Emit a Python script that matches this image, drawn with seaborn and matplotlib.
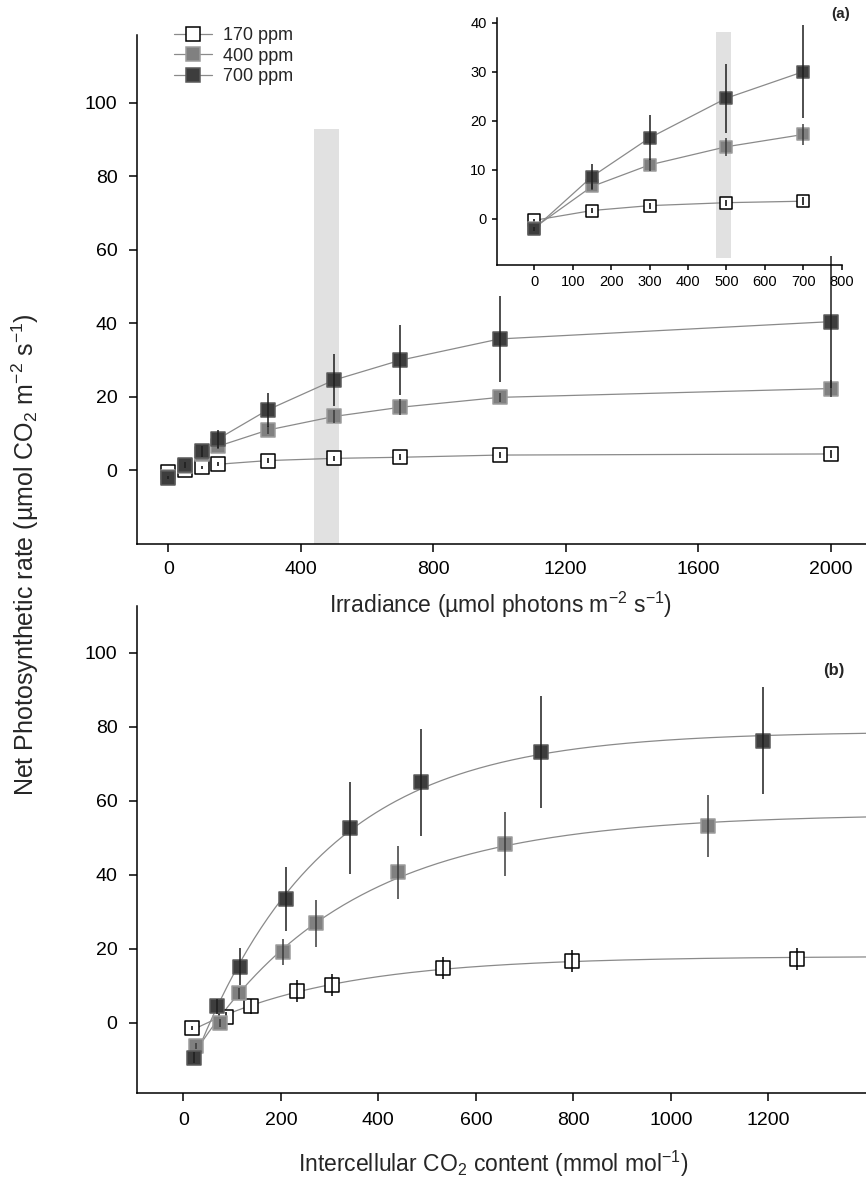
import numpy as np
import pandas as pd
import matplotlib
matplotlib.use("Agg")
import matplotlib.pyplot as plt
from matplotlib.lines import Line2D
import seaborn as sns

# ---------------- data ----------------
# Panel (a): light response
irradiance = [0, 50, 100, 150, 300, 500, 700, 1000, 2000]
a_170 = [-0.3, 0.2, 0.9, 1.7, 2.7, 3.3, 3.6, 4.2, 4.5]
a_170_err = [0.3, 0.3, 0.4, 0.5, 0.6, 0.6, 0.8, 0.9, 1.0]
a_400 = [-1.8, 1.2, 4.5, 6.6, 11.0, 14.7, 17.2, 19.9, 22.3]
a_400_err = [0.3, 0.5, 0.8, 0.8, 1.2, 1.8, 2.2, 1.2, 2.3]
a_700 = [-2.0, 1.6, 5.3, 8.6, 16.5, 24.6, 30.0, 35.8, 40.5]
a_700_err = [0.4, 0.8, 1.5, 2.5, 4.6, 7.0, 9.5, 11.8, 18.0]
inset_irradiance = [0, 150, 300, 500, 700]

# Panel (b): CO2 response
ci_170 = [18, 87, 139, 233, 304, 532, 797, 1258]
b_170 = [-1.5, 1.5, 4.4, 8.5, 10.3, 14.8, 16.8, 17.3]
b_170_err = [0.5, 1.5, 2.0, 3.0, 3.0, 3.1, 3.0, 3.0]
ci_400 = [25, 76, 114, 204, 272, 441, 659, 1077]
b_400 = [-6.2, -0.1, 8.0, 19.1, 26.9, 40.7, 48.4, 53.2]
b_400_err = [0.8, 1.0, 1.5, 3.5, 6.4, 7.2, 8.7, 8.5]
ci_700 = [21, 70, 117, 210, 342, 487, 734, 1189]
b_700 = [-9.4, 4.4, 15.2, 33.4, 52.6, 65.0, 73.2, 76.3]
b_700_err = [1.5, 2.0, 5.0, 8.6, 12.5, 14.5, 15.2, 14.5]

series_labels = ["170 ppm", "400 ppm", "700 ppm"]

# ---------------- style ----------------
sns.set_theme(style="ticks")
plt.rcParams["font.family"] = ["Liberation Sans", "DejaVu Sans"]
plt.rcParams["mathtext.fontset"] = "custom"
plt.rcParams["mathtext.rm"] = "Liberation Sans"
plt.rcParams["mathtext.it"] = "Liberation Sans:italic"
plt.rcParams["mathtext.bf"] = "Liberation Sans:bold"

LINE = "#8a8a8a"
styles = {
    "170 ppm": dict(fc="white", ec="black", err="black"),
    "400 ppm": dict(fc="#808080", ec="#9c9c9c", err="#3a3a3a"),
    "700 ppm": dict(fc="#3d3d3d", ec="#5a5a5a", err="#1e1e1e"),
}

W, H = 866, 1184
fig = plt.figure(figsize=(W / 100, H / 100), dpi=100)


def px_axes(left, top, right, bottom):
    return fig.add_axes([left / W, 1 - bottom / H, (right - left) / W, (bottom - top) / H])


def style_axes(ax, lab=14, length=6, pad=8):
    for s in ["top", "right"]:
        ax.spines[s].set_visible(False)
    for s in ["left", "bottom"]:
        ax.spines[s].set_linewidth(1.1)
        ax.spines[s].set_color("black")
    ax.tick_params(direction="out", length=length, width=1.1, labelsize=lab, pad=pad, colors="black")
    ax.grid(False)


def draw_points(ax, x, y, err, label, base_z, s=90):
    st = styles[label]
    sns.scatterplot(x=x, y=y, ax=ax, marker="s", s=s, color=st["fc"], edgecolor=st["ec"],
                    linewidth=1.1, zorder=base_z, legend=False)
    ax.errorbar(x, y, yerr=err, fmt="none", ecolor=st["err"], elinewidth=1.1, capsize=0,
                zorder=base_z + 1)


def fit_saturating(x, y):
    x = np.asarray(x, float)
    y = np.asarray(y, float)
    best = None
    for k in np.linspace(0.0005, 0.03, 800):
        X = np.column_stack([np.ones_like(x), np.exp(-k * x)])
        coef, *_ = np.linalg.lstsq(X, y, rcond=None)
        sse = float(np.sum((X @ coef - y) ** 2))
        if best is None or sse < best[0]:
            best = (sse, k, coef)
    return best[1], best[2]


# ---------------- panel (a) ----------------
axA = px_axes(137, 35, 866, 544)
style_axes(axA)
axA.tick_params(axis="x", pad=6)
axA.set_xlim(-95, 2107)
axA.set_ylim(-20, 118.5)
axA.set_xticks([0, 400, 800, 1200, 1600, 2000])
axA.set_yticks([0, 20, 40, 60, 80, 100])
axA.fill_between([440, 515], -20, 93, color="#e1e1e1", lw=0, zorder=0)

dfA = pd.DataFrame({"irr": irradiance, "170 ppm": a_170, "400 ppm": a_400, "700 ppm": a_700,
                    "170 ppm_err": a_170_err, "400 ppm_err": a_400_err, "700 ppm_err": a_700_err})
for i, lab in enumerate(series_labels):
    sub = dfA[dfA["irr"] >= 150]
    sns.lineplot(x=sub["irr"], y=sub[lab], ax=axA, color=LINE, lw=0.9, zorder=1, sort=False)
    draw_points(axA, dfA["irr"], dfA[lab], dfA[lab + "_err"], lab, 3 + 2 * i)
axA.set_xlabel("")
axA.set_ylabel("")

# ---------------- inset ----------------
axI = px_axes(497, 17.7, 841.7, 264.5)
axI.set_facecolor("none")
style_axes(axI, lab=10.5, length=3.5, pad=4)
axI.set_xlim(-97, 800)
axI.set_ylim(-9.3, 41)
axI.set_xticks(range(0, 801, 100))
axI.set_yticks([0, 10, 20, 30, 40])
axI.fill_between([473, 512], -8, 38, color="#e1e1e1", lw=0, zorder=0)
dfI = dfA[dfA["irr"].isin(inset_irradiance)]
for i, lab in enumerate(series_labels):
    sns.lineplot(x=dfI["irr"], y=dfI[lab], ax=axI, color=LINE, lw=0.9, zorder=1, sort=False)
    draw_points(axI, dfI["irr"], dfI[lab], dfI[lab + "_err"], lab, 3 + 2 * i, s=80)
axI.set_xlabel("")
axI.set_ylabel("")

# ---------------- panel (b) ----------------
axB = px_axes(137, 606, 866, 1093)
style_axes(axB)
axB.set_xlim(-95, 1400)
axB.set_ylim(-19, 112.7)
axB.set_xticks([0, 200, 400, 600, 800, 1000, 1200])
axB.set_yticks([0, 20, 40, 60, 80, 100])
b_sets = [(ci_170, b_170, b_170_err), (ci_400, b_400, b_400_err), (ci_700, b_700, b_700_err)]
for i, (lab, (cx, cy, ce)) in enumerate(zip(series_labels, b_sets)):
    k, coef = fit_saturating(cx, cy)
    xx = np.linspace(min(cx), 1400, 300)
    yy = coef[0] + coef[1] * np.exp(-k * xx)
    sns.lineplot(x=xx, y=yy, ax=axB, color=LINE, lw=0.9, zorder=1, sort=False)
    draw_points(axB, cx, cy, ce, lab, 3 + 2 * i)
axB.set_xlabel("")
axB.set_ylabel("")

# ---------------- text ----------------
fig.text(501 / W, 1 - 605 / H, "Irradiance (µmol photons m$^{-2}$ s$^{-1}$)", fontsize=16.5,
         ha="center", va="center")
fig.text(493 / W, 1 - 1164 / H, "Intercellular CO$_2$ content (mmol mol$^{-1}$)", fontsize=16.5,
         ha="center", va="center")
fig.text(25 / W, 1 - 555 / H, "Net Photosynthetic rate (µmol CO$_2$ m$^{-2}$ s$^{-1}$)", fontsize=18,
         ha="center", va="center", rotation=90)
fig.text(841 / W, 1 - 14 / H, "(a)", fontsize=11, fontweight="bold", ha="center", va="center")
fig.text(834 / W, 1 - 670 / H, "(b)", fontsize=12, fontweight="bold", ha="center", va="center")

handles = []
for lab in series_labels:
    st = styles[lab]
    handles.append(Line2D([0], [0], color=LINE, lw=0.9, marker="s", markersize=10,
                          markerfacecolor=st["fc"], markeredgecolor=st["ec"], markeredgewidth=1.1))
fig.legend(handles, series_labels, loc="upper left", bbox_to_anchor=(174 / W, 1 - 27 / H),
           frameon=False, fontsize=13, borderpad=0, borderaxespad=0, handlelength=2.1,
           handletextpad=0.6, labelspacing=0.2)

fig.savefig("out.png", dpi=100)
